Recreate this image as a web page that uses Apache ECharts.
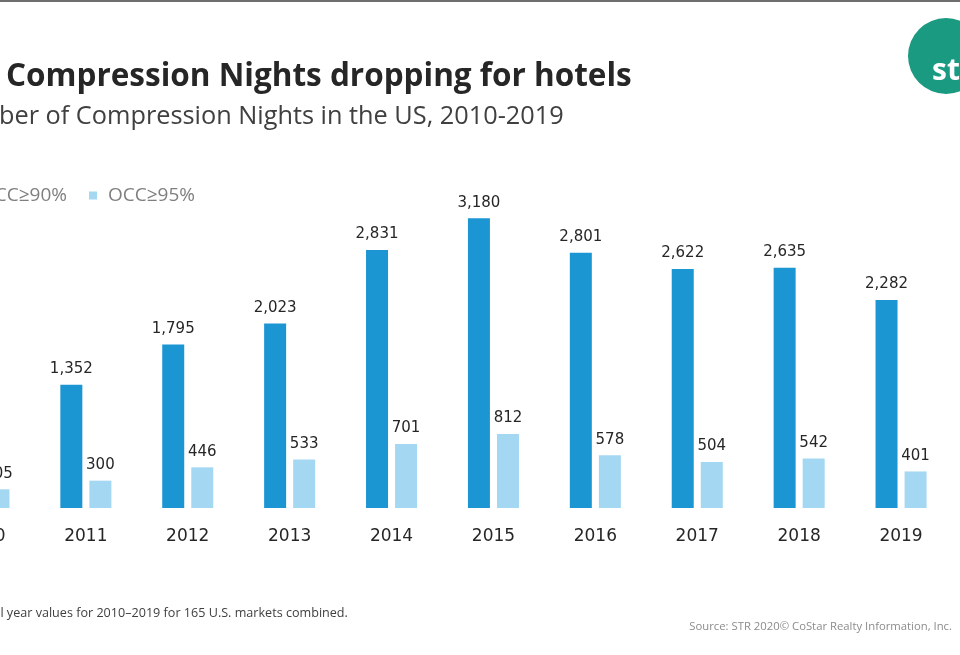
<!DOCTYPE html>
<html>
<head>
<meta charset="utf-8">
<script src="https://cdn.jsdelivr.net/npm/echarts@6/dist/echarts.min.js"></script>
<style>
  html, body { margin: 0; padding: 0; background: #fff; }
  #chart { width: 960px; height: 655px; }
</style>
</head>
<body>
<div id="chart"></div>
<script>
// data
var years = ['2010', '2011', '2012', '2013', '2014', '2015', '2016', '2017', '2018', '2019'];
var occ90 = [780, 1352, 1795, 2023, 2831, 3180, 2801, 2622, 2635, 2282];
var occ95 = [205, 300, 446, 533, 701, 812, 578, 504, 542, 401];
var seriesNames = ['OCC≥90%', 'OCC≥95%'];

var fontFam = '"Open Sans", sans-serif';
var numFam = '"DejaVu Sans", sans-serif';
var fmt = function (p) { return p.value.toLocaleString('en-US'); };

var myChart = echarts.init(document.getElementById('chart'));

var option = {
    animation: false,
    backgroundColor: '#fff',
    textStyle: { fontFamily: fontFam },
    title: [{
        text: 'Compression Nights dropping for hotels',
        left: 1, top: 56,
        textStyle: { fontSize: 31.5, fontWeight: 'bold', color: '#262626', fontFamily: fontFam }
    }, {
        text: 'Number of Compression Nights in the US, 2010-2019',
        left: -64, top: 99,
        textStyle: { fontSize: 25.3, fontWeight: 'normal', color: '#404040', fontFamily: fontFam }
    }, {
        text: 'Full year values for 2010–2019 for 165 U.S. markets combined.',
        left: -22, top: 602,
        textStyle: { fontSize: 12.6, fontWeight: 'normal', color: '#404040', fontFamily: fontFam }
    }, {
        text: 'Source: STR 2020© CoStar Realty Information, Inc.',
        right: 3, top: 616,
        textStyle: { fontSize: 11.3, fontWeight: 'normal', color: '#8c8c8c', fontFamily: fontFam }
    }],
    legend: {
        data: seriesNames,
        left: -44, top: 181,
        icon: 'rect',
        itemWidth: 8, itemHeight: 8,
        itemGap: 22,
        textStyle: { fontSize: 19, color: '#7f7f7f', fontFamily: fontFam, padding: [0, 0, 0, 6] }
    },
    grid: {
        left: -67, right: 8, top: 189, bottom: 147,
        outerBoundsMode: 'none'
    },
    xAxis: {
        type: 'category',
        data: years,
        axisLine: { show: false },
        axisTick: { show: false },
        axisLabel: { fontSize: 17, color: '#262626', margin: 20, fontFamily: numFam }
    },
    yAxis: {
        type: 'value',
        min: 0, max: 3500,
        show: false,
        splitLine: { show: false }
    },
    series: [{
        name: seriesNames[0],
        type: 'bar',
        data: occ90,
        barWidth: 22,
        barGap: '32%',
        itemStyle: { color: '#1b96d3' },
        label: { show: true, position: 'top', distance: 8, fontSize: 15, color: '#262626', fontFamily: numFam, formatter: fmt }
    }, {
        name: seriesNames[1],
        type: 'bar',
        data: occ95,
        barWidth: 22,
        itemStyle: { color: '#a3d7f2' },
        label: { show: true, position: 'top', distance: 8, fontSize: 15, color: '#262626', fontFamily: numFam, formatter: fmt }
    }],
    graphic: [{
        type: 'rect',
        shape: { x: 0, y: 0, width: 960, height: 2 },
        style: { fill: '#6e6e6e' }
    }, {
        type: 'circle',
        shape: { cx: 946, cy: 56, r: 38 },
        style: { fill: '#1a9a80' }
    }, {
        type: 'text',
        left: 932, top: 56,
        style: { text: 'str', fill: '#fff', font: 'bold 30px "Open Sans", sans-serif' }
    }, {
        type: 'rect',
        shape: { x: 934, y: 95, width: 18, height: 2 },
        style: { fill: '#fff' }
    }]
};

myChart.setOption(option);
</script>
</body>
</html>
